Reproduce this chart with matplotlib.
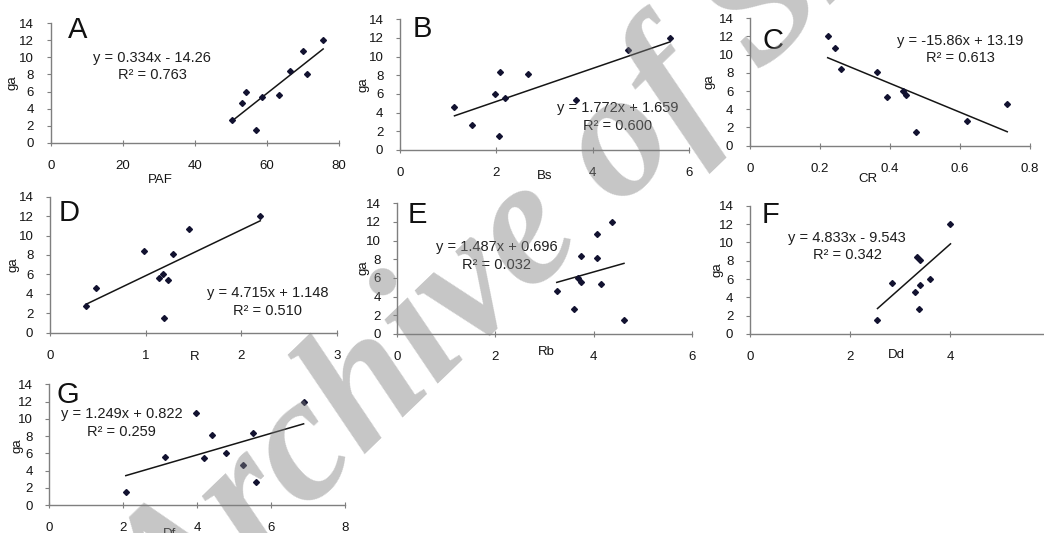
import numpy as np
import matplotlib
matplotlib.use('Agg')
import matplotlib.pyplot as plt

plt.rcParams['font.family'] = ['Liberation Sans', 'DejaVu Sans']

# ga (dependent variable), same samples in every panel
ga = [12.0, 10.7, 8.4, 8.1, 6.0, 5.6, 5.4, 4.6, 2.7, 1.5]

# predictors (nan = point not visible)
paf = [75.6, 70.1, 66.5, 71.1, 54.1, 63.3, 58.5, 53.2, 50.4, 56.9]
bs = [5.60, 4.73, 2.07, 2.65, 1.96, 2.18, 3.65, 1.13, 1.50, 2.06]
cr = [0.222, 0.242, 0.261, 0.362, 0.438, 0.445, 0.391, 0.735, 0.619, 0.474]
r = [2.20, 1.45, 0.98, 1.29, 1.18, 1.14, 1.23, 0.477, 0.373, 1.19]
rb = [4.38, 4.08, 3.74, 4.08, 3.69, 3.75, 4.15, 3.25, 3.60, 4.62]
dd = [4.01, np.nan, 3.35, 3.40, 3.60, 2.85, 3.40, 3.31, 3.38, 2.55]
df = [6.88, 3.96, 5.50, 4.41, 4.77, 3.14, 4.18, 5.24, 5.59, 2.07]

xdata = [paf, bs, cr, r, rb, dd, df]
xnames = ['PAF', 'Bs', 'CR', 'R', 'Rb', 'Dd', 'Df']
letters = ['A', 'B', 'C', 'D', 'E', 'F', 'G']

# trend lines (from the equations on the chart)
slopes = [0.334, 1.772, -15.86, 4.715, 1.487, 4.833, 1.249]
intercepts = [-14.26, 1.659, 13.19, 1.148, 0.696, -9.543, 0.822]
eqs = ['y = 0.334x - 14.26', 'y = 1.772x + 1.659', 'y = -15.86x + 13.19',
       'y = 4.715x + 1.148', 'y = 1.487x + 0.696', 'y = 4.833x - 9.543',
       'y = 1.249x + 0.822']
r2 = [0.763, 0.600, 0.613, 0.510, 0.032, 0.342, 0.259]

xmax = [80, 6, 0.8, 3, 6, 6, 8]
xstep = [20, 2, 0.2, 1, 2, 2, 2]

# ---- layout (pixels) ----
W, H = 1044, 533
boxes = [(50.7, 339.0, 142.7, 23.3), (400.0, 689.3, 150.0, 19.3),
         (750.0, 1030.0, 145.7, 18.3), (50.0, 336.7, 332.7, 196.7),
         (397.3, 691.7, 334.0, 203.3), (750.0, 1050.0, 334.0, 205.7),
         (49.3, 345.0, 505.0, 384.3)]
letter_pos = [(0.06, 1.06), (0.045, 1.03), (0.043, 0.935), (0.031, 0.98),
              (0.036, 1.02), (0.04, 1.04), (0.026, 1.03)]
eq_pos = [(28.1, 8.93), (4.52, 3.53), (0.6, 10.6), (2.28, 3.16),
          (2.03, 8.35), (1.94, 9.55), (1.96, 9.5)]
xlab_px = [(160, 180), (545, 176), (868, 179), (195, 357), (546, 352),
           (896, 355), (170, 534)]
ylab_px = [(12.5, 83), (364, 85), (709, 82), (14, 265), (363, 268),
           (717, 270), (17, 446)]

fig = plt.figure(figsize=(W / 100, H / 100), dpi=100)
gray = '#7f7f7f'
txt = '#141414'

for i in range(7):
    l, rr, y0, y14 = boxes[i]
    ax = fig.add_axes([l / W, 1 - y0 / H, (rr - l) / W, (y0 - y14) / H])
    ax.set_xlim(0, xmax[i])
    ax.set_ylim(0, 14)
    ax.patch.set_alpha(0)

    x = np.array(xdata[i], dtype=float)
    y = np.array(ga)
    ax.plot(x, y, 'D', ms=3.0, color='#121230', zorder=3, clip_on=False)
    xx = np.array([np.nanmin(x), np.nanmax(x)])
    ax.plot(xx, slopes[i] * xx + intercepts[i], color='#151515', lw=1.1)

    for s in ['top', 'right']:
        ax.spines[s].set_visible(False)
    for s in ['left', 'bottom']:
        ax.spines[s].set_color(gray)
        ax.spines[s].set_linewidth(1.0)

    ax.set_yticks(range(0, 15, 2))
    ticks = np.arange(0, xmax[i] + xstep[i] / 2, xstep[i])
    ax.set_xticks(ticks)
    ax.set_xticklabels(['%g' % round(t, 2) for t in ticks])
    ax.tick_params(axis='y', direction='out', length=3, width=0.8,
                   color=gray, pad=9, labelsize=9.5, labelcolor=txt)
    ax.tick_params(axis='x', direction='inout', length=5, width=0.8,
                   color=gray, pad=10, labelsize=9.5, labelcolor=txt)

    ax.text(letter_pos[i][0], letter_pos[i][1], letters[i],
            transform=ax.transAxes, fontsize=21, va='top', ha='left',
            color='#111111')
    ax.text(eq_pos[i][0], eq_pos[i][1], eqs[i] + '\nR² = %.3f' % r2[i],
            ha='center', va='center', fontsize=10.5, linespacing=1.3,
            color='#1e1e1e')

    fig.text(xlab_px[i][0] / W, 1 - xlab_px[i][1] / H, xnames[i],
             ha='center', va='center', fontsize=9.5, color=txt)
    fig.text(ylab_px[i][0] / W, 1 - ylab_px[i][1] / H, 'ga', rotation=90,
             ha='center', va='center', fontsize=9.5, color=txt)

# watermark
fig.text(0.164, -0.22, 'Archive of SID', rotation=44, rotation_mode='anchor',
         ha='left', va='baseline', fontsize=130, family='Liberation Serif',
         style='italic', weight='bold', color='#808080', alpha=0.45, zorder=10)

fig.savefig('out.png', dpi=100)
